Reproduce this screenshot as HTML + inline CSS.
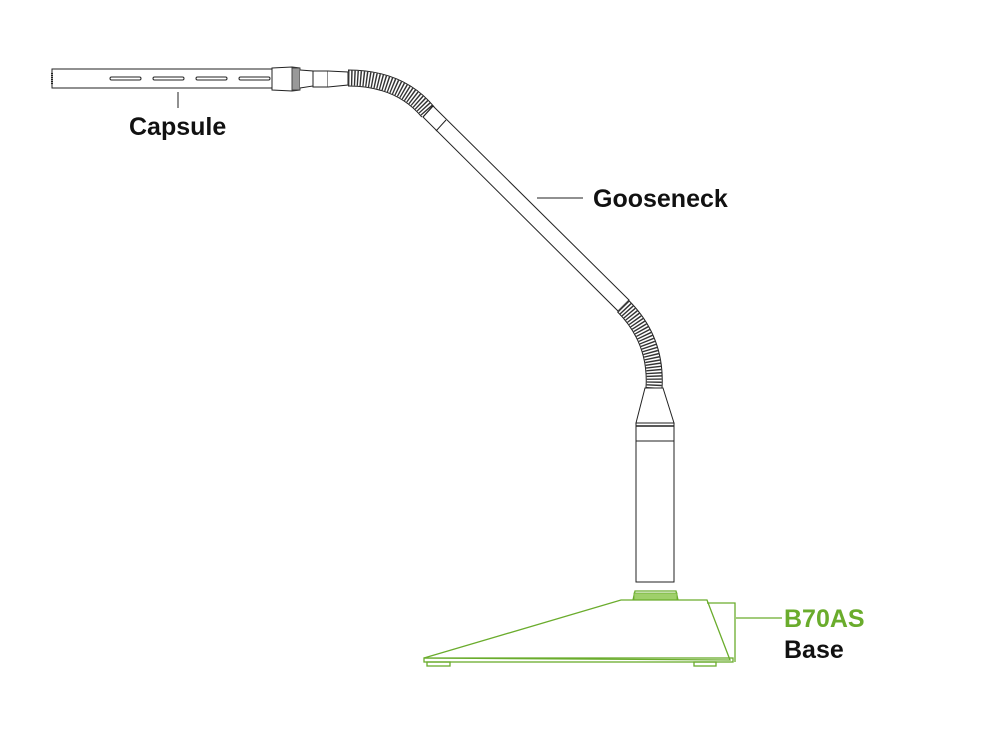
<!DOCTYPE html>
<html><head><style>
html,body{margin:0;padding:0;background:#fff}
svg{display:block}
text{font-family:"Liberation Sans",sans-serif;font-weight:bold}
</style></head><body>
<svg width="982" height="742" viewBox="0 0 982 742" xmlns="http://www.w3.org/2000/svg">
<g fill="none" stroke="#222" stroke-width="1">
<!-- capsule -->
<rect x="52" y="69" width="220" height="19" fill="#fff"/>
<line x1="52" y1="73" x2="52" y2="84" stroke-dasharray="1 1" stroke-width="2"/>
<rect x="110" y="77" width="31" height="3" rx="1.5"/>
<rect x="153" y="77" width="31" height="3" rx="1.5"/>
<rect x="196" y="77" width="31" height="3" rx="1.5"/>
<rect x="239" y="77" width="31" height="3" rx="1.5"/>
<path d="M272,68 L292,67 L300,68 L300,90 L292,91 L272,90 Z" fill="#fff"/>
<rect x="292" y="68" width="8" height="22" fill="#999" stroke="#444"/>
<path d="M300,70 L313,71 L313,86 L300,88" fill="#fff"/>
<rect x="313" y="71" width="15" height="16" fill="#fff"/>
<path d="M328,71 L348,72 L348,85 L328,87" fill="#fff"/>
<!-- upper flex -->
<path d="M348,78 Q400,78 428,112" stroke="#222" stroke-width="17"/>
<path d="M348,78 Q400,78 428,112" stroke="#fff" stroke-width="15"/>
<path d="M348,78 Q400,78 428,112" stroke="#333" stroke-width="15" stroke-dasharray="1.4 1.6"/>
<!-- rigid tube -->
<path d="M433,106 L629,300 L618,311 L423,117 Z" fill="#fff"/>
<line x1="433" y1="106" x2="423" y2="117"/>
<line x1="446" y1="120" x2="436" y2="131"/>
<!-- lower flex -->
<path d="M623,306 Q657,340 654,388" stroke="#222" stroke-width="17"/>
<path d="M623,306 Q657,340 654,388" stroke="#fff" stroke-width="15"/>
<path d="M623,306 Q657,340 654,388" stroke="#333" stroke-width="15" stroke-dasharray="1.4 1.6"/>
<!-- cone and body -->
<path d="M645,388 L663,388 L674,423 L636,423 Z" fill="#fff"/>
<rect x="636" y="423" width="38" height="159" fill="#fff"/>
<line x1="636" y1="426" x2="674" y2="426" stroke-width="1.5"/>
<line x1="636" y1="441" x2="674" y2="441"/>
<!-- connectors -->
<line x1="178" y1="92" x2="178" y2="108"/>
<line x1="537" y1="198" x2="583" y2="198"/>
</g>
<g fill="none" stroke="#6aac2c" stroke-width="1.3">
<path d="M633,600 L635,591 L676,591 L678,600" fill="#fff"/>
<rect x="634" y="593" width="43" height="7" fill="#9fd06a" stroke="#6aac2c" stroke-width="0.8"/>
<path d="M424,658 L621,600 L707,600 L730,660 Z" fill="#fff"/>
<path d="M707,603 L735,603 L735,662"/>
<rect x="424" y="658" width="309" height="4"/>
<rect x="427" y="662" width="23" height="4"/>
<rect x="694" y="662" width="22" height="4"/>
<line x1="736" y1="618" x2="782" y2="618"/>
</g>
<text x="129" y="135" font-size="25" fill="#111">Capsule</text>
<text x="593" y="207" font-size="25" fill="#111">Gooseneck</text>
<text x="784" y="627" font-size="25" fill="#6aac2c">B70AS</text>
<text x="784" y="658" font-size="25" fill="#111">Base</text>
</svg>
</body></html>
